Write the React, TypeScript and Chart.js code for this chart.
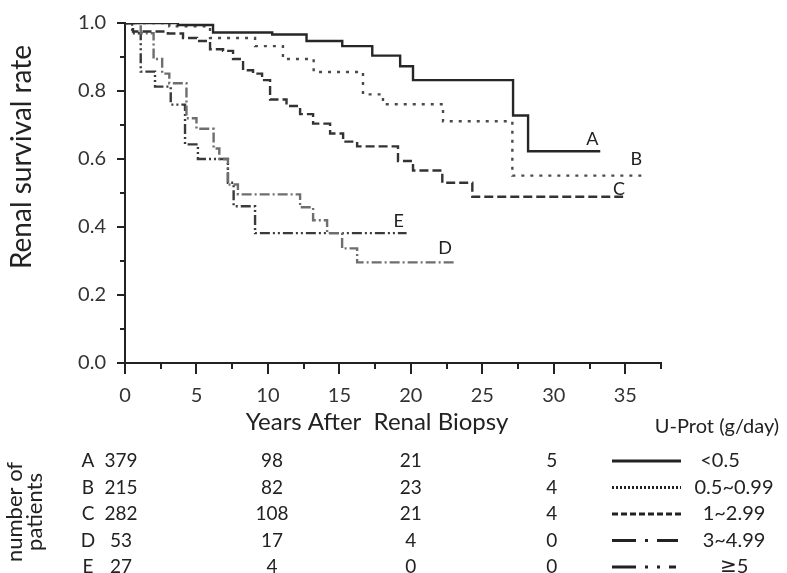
import React, { useEffect, useRef } from 'react';
import { Chart, registerables } from 'chart.js';

Chart.register(...registerables);

// ---- Data ----
const timesA = [0, 3.7, 6.16, 10.3, 12.7, 15.2, 17.3, 19.25, 20.15, 27.15, 28.2, 33.25];
const survA = [1.0, 0.994, 0.972, 0.966, 0.947, 0.932, 0.904, 0.873, 0.832, 0.728, 0.623, 0.623];

const timesB = [0, 3.1, 5.95, 9.1, 11.05, 13.2, 16.65, 18.05, 22.25, 27.1, 36.2];
const survB = [1.0, 0.99, 0.956, 0.932, 0.894, 0.856, 0.79, 0.761, 0.711, 0.551, 0.551];

const timesC = [0, 0.56, 3.0, 4.06, 5.04, 5.95, 6.86, 7.56, 8.26, 8.96, 9.59, 10.15, 11.3, 12.25, 13.16, 14.35, 15.26, 16.24, 19.1, 20.15, 22.2, 24.3, 34.85];
const survC = [1.0, 0.975, 0.969, 0.956, 0.947, 0.923, 0.918, 0.894, 0.861, 0.851, 0.832, 0.775, 0.756, 0.732, 0.704, 0.675, 0.651, 0.637, 0.594, 0.566, 0.53, 0.489, 0.489];

const timesD = [0, 1.1, 2.0, 2.6, 3.1, 4.3, 5.0, 6.2, 6.6, 7.2, 7.9, 12.25, 13.16, 14.14, 15.19, 16.24, 23.1];
const survD = [1.0, 0.97, 0.894, 0.851, 0.823, 0.72, 0.689, 0.631, 0.6, 0.525, 0.496, 0.458, 0.42, 0.382, 0.337, 0.296, 0.296];

const timesE = [0, 0.5, 1.1, 2.1, 3.2, 4.2, 5.1, 7.2, 7.6, 9.1, 19.7];
const survE = [1.0, 0.97, 0.857, 0.813, 0.76, 0.643, 0.6, 0.53, 0.461, 0.382, 0.382];

const curveNames = ['A', 'B', 'C', 'D', 'E'];
const groupLabels = ['<0.5', '0.5~0.99', '1~2.99', '3~4.99', '\u2267' + '5'];

const riskTimes = [0, 10, 20, 30];
const riskA = [379, 98, 21, 5];
const riskB = [215, 82, 23, 4];
const riskC = [282, 108, 21, 4];
const riskD = [53, 17, 4, 0];
const riskE = [27, 4, 0, 0];

const xTitle = 'Years After  Renal Biopsy';
const yTitle = 'Renal survival rate';
const legendTitle = 'U-Prot (g/day)';
const riskTitle = ['number of', 'patients'];

// ---- Styles ----
const FONT = 'Lato, "Open Sans", sans-serif';
const lineColors = ['#262626', '#4a4a4a', '#333333', '#6e6e6e', '#3a3a3a'];
const dashes: number[][] = [[], [3, 6], [9, 4], [10, 3, 2, 3], [10, 3, 2, 3, 2, 3]];

const toPoints = (t: number[], s: number[]) => t.map((x, i) => ({ x, y: s[i] }));

const overlayPlugin = {
  id: 'overlay',
  afterDraw(chart: any) {
    const ctx: CanvasRenderingContext2D = chart.ctx;
    const xs = chart.scales.x;
    const ys = chart.scales.y;
    const area = chart.chartArea;
    ctx.save();

    // tick marks
    ctx.strokeStyle = '#222';
    ctx.lineWidth = 2;
    xs.ticks.forEach((t: any) => {
      const px = Math.round(xs.getPixelForValue(t.value));
      const major = Math.abs(t.value / 5 - Math.round(t.value / 5)) < 1e-6;
      ctx.beginPath();
      ctx.moveTo(px, area.bottom);
      ctx.lineTo(px, area.bottom + (major ? 11 : 6));
      ctx.stroke();
    });
    ys.ticks.forEach((t: any) => {
      const py = Math.round(ys.getPixelForValue(t.value));
      const major = Math.round(t.value * 10) % 2 === 0;
      ctx.beginPath();
      ctx.moveTo(area.left, py);
      ctx.lineTo(area.left - (major ? 8 : 5), py);
      ctx.stroke();
    });

    ctx.fillStyle = '#222';
    // curve labels
    const ends = [
      [timesA, survA, -8, -12],
      [timesB, survB, -6, -16],
      [timesC, survC, -4, -8],
      [timesD, survD, -10, -14],
      [timesE, survE, -8, -12],
    ];
    ctx.font = `18px ${FONT}`;
    ctx.textAlign = 'center';
    ctx.textBaseline = 'middle';
    ends.forEach((e: any, i) => {
      const t = e[0], s = e[1];
      const px = xs.getPixelForValue(t[t.length - 1]) + e[2];
      const py = ys.getPixelForValue(s[s.length - 1]) + e[3];
      ctx.fillText(curveNames[i], px, py);
    });

    // x title
    ctx.font = `24px ${FONT}`;
    ctx.fillText(xTitle, 377, 422);

    // y title
    ctx.save();
    ctx.translate(22, 157);
    ctx.rotate(-Math.PI / 2);
    ctx.font = `28px ${FONT}`;
    ctx.fillText(yTitle, 0, 0);
    ctx.restore();

    // risk table
    const rows = [riskA, riskB, riskC, riskD, riskE];
    const colOffsets = [-4, 4, 0, -2];
    const rowY0 = 461;
    const rowStep = 26.5;
    ctx.font = `19px ${FONT}`;
    rows.forEach((r, i) => {
      const py = rowY0 + i * rowStep;
      ctx.textAlign = 'center';
      ctx.fillText(curveNames[i], 88, py);
      r.forEach((v, j) => {
        ctx.fillText(String(v), xs.getPixelForValue(riskTimes[j]) + colOffsets[j], py);
      });
    });

    // number of patients (rotated)
    ctx.save();
    ctx.translate(0, 512);
    ctx.rotate(-Math.PI / 2);
    ctx.font = `22px ${FONT}`;
    ctx.fillText(riskTitle[0], 0, 15);
    ctx.fillText(riskTitle[1], 0, 35);
    ctx.restore();

    // legend
    ctx.font = `20px ${FONT}`;
    ctx.fillText(legendTitle, 717, 427);
    groupLabels.forEach((g, i) => {
      const py = rowY0 + i * rowStep;
      ctx.save();
      ctx.strokeStyle = '#222';
      ctx.lineWidth = 3;
      ctx.setLineDash(i === 1 ? [2, 2] : i === 2 ? [6, 3] : i === 3 ? [24, 9, 3, 9] : i === 4 ? [24, 9, 3, 9, 3, 9] : []);
      ctx.beginPath();
      ctx.moveTo(612, py);
      ctx.lineTo(i === 3 ? 678 : i === 4 ? 676 : 681, py);
      ctx.stroke();
      ctx.restore();
      ctx.font = `20px ${FONT}`;
      ctx.fillText(g, i === 0 ? 720 : 734, py);
    });

    ctx.restore();
  },
};

export default function App() {
  const ref = useRef<HTMLCanvasElement | null>(null);

  useEffect(() => {
    document.body.style.margin = '0';
    const canvas = ref.current;
    if (!canvas) return;
    const series = [
      toPoints(timesA, survA),
      toPoints(timesB, survB),
      toPoints(timesC, survC),
      toPoints(timesD, survD),
      toPoints(timesE, survE),
    ];
    const chart = new Chart(canvas, {
      type: 'line',
      data: {
        datasets: series.map((d, i) => ({
          label: curveNames[i],
          data: d,
          stepped: true,
          borderColor: lineColors[i],
          borderWidth: 2.4,
          borderDash: dashes[i],
          pointRadius: 0,
          fill: false,
        })),
      },
      options: {
        animation: false,
        responsive: false,
        maintainAspectRatio: false,
        layout: { padding: { left: 0, right: 126, top: 13, bottom: 140 } },
        plugins: { legend: { display: false }, tooltip: { enabled: false } },
        scales: {
          x: {
            type: 'linear',
            min: 0,
            max: 37.5,
            grid: { display: false },
            border: { display: true, color: '#222', width: 2 },
            afterFit: (s: any) => { s.height = 70; },
            ticks: {
              stepSize: 2.5,
              autoSkip: false,
              maxRotation: 0,
              padding: 13,
              color: '#333',
              font: { family: FONT, size: 20 },
              callback: (v: any) => {
                const n = Number(v);
                return Math.abs(n / 5 - Math.round(n / 5)) < 1e-6 && n <= 35 ? String(Math.round(n)) : '';
              },
            },
          },
          y: {
            type: 'linear',
            min: 0,
            max: 1,
            grid: { display: false },
            border: { display: true, color: '#222', width: 2 },
            afterFit: (s: any) => { s.width = 125; },
            ticks: {
              stepSize: 0.1,
              autoSkip: false,
              padding: 11,
              color: '#333',
              font: { family: FONT, size: 20 },
              callback: (v: any) => {
                const k = Math.round(Number(v) * 10);
                return k % 2 === 0 ? (k / 10).toFixed(1) : '';
              },
            },
          },
        },
      },
      plugins: [overlayPlugin],
    });
    return () => chart.destroy();
  }, []);

  return (
    <div style={{ width: 787, height: 573, background: '#fff' }}>
      <canvas ref={ref} width={787} height={573} style={{ display: 'block' }} />
    </div>
  );
}
